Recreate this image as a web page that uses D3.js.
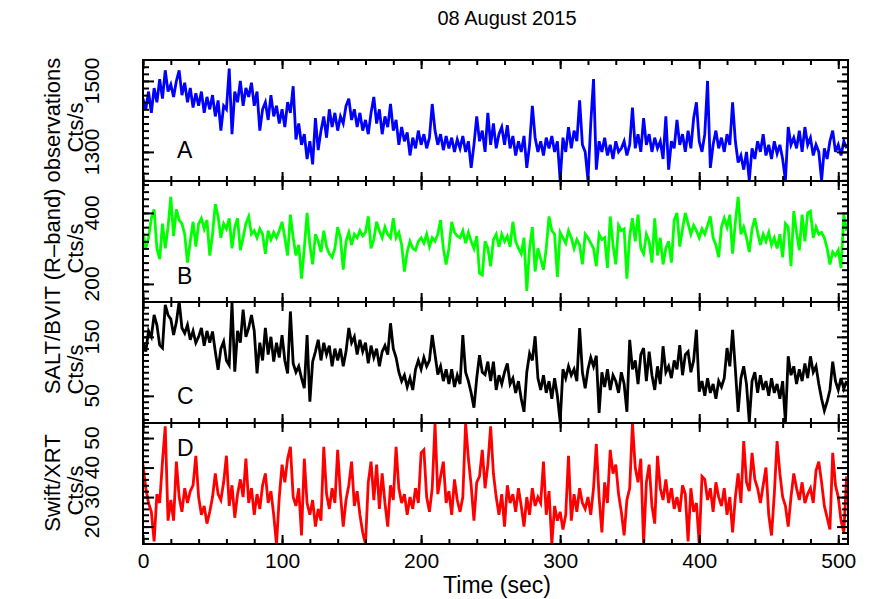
<!DOCTYPE html>
<html>
<head>
<meta charset="utf-8">
<script src="https://cdnjs.cloudflare.com/ajax/libs/d3/7.8.5/d3.min.js"></script>
<style>
body { margin: 0; background: #fff; }
svg text { font-family: "Liberation Sans", Arial, Helvetica, sans-serif; fill: #000; }
</style>
</head>
<body>
<svg id="svg" width="872" height="599"></svg>
<script>
// Light curves, 2 s bins
var titleText = "08 August 2015";
var binSec = 2;
var timeTicks = [0, 100, 200, 300, 400, 500];

// A: SALT/BVIT Cts/s
var saltA = [
	1450, 1420, 1470, 1410, 1480, 1440, 1505, 1450, 1530, 1470,
	1490, 1455, 1500, 1530, 1460, 1495, 1440, 1480, 1425, 1465,
	1430, 1470, 1410, 1455, 1420, 1460, 1400, 1445, 1360, 1430,
	1420, 1535, 1350, 1470, 1440, 1500, 1430, 1480, 1455, 1495,
	1430, 1470, 1360, 1420, 1440, 1390, 1460, 1400, 1430, 1380,
	1420, 1370, 1440, 1410, 1485, 1335, 1380, 1320, 1350, 1280,
	1330, 1265, 1395, 1305, 1360, 1400, 1340, 1420, 1370, 1410,
	1360, 1400, 1380, 1430, 1450, 1390, 1420, 1370, 1410, 1360,
	1390, 1350, 1410, 1455, 1380, 1420, 1350, 1400, 1370, 1435,
	1360, 1390, 1320, 1370, 1330, 1355, 1290, 1340, 1310, 1360,
	1320, 1350, 1310, 1340, 1435, 1360, 1320, 1350, 1305, 1345,
	1310, 1340, 1300, 1335, 1310, 1345, 1300, 1330, 1255, 1320,
	1400, 1330, 1360, 1300, 1410, 1320, 1380, 1310, 1350, 1370,
	1320, 1375, 1310, 1345, 1290, 1330, 1300, 1345, 1255, 1320,
	1430, 1340, 1300, 1330, 1290, 1340, 1310, 1345, 1300, 1330,
	1220, 1340, 1300, 1370, 1310, 1360, 1330, 1445, 1320, 1300,
	1220, 1380, 1505, 1250, 1330, 1300, 1340, 1290, 1320, 1280,
	1330, 1300, 1310, 1330, 1290, 1320, 1425, 1310, 1350, 1300,
	1395, 1320, 1350, 1300, 1340, 1310, 1330, 1280, 1400, 1250,
	1330, 1310, 1390, 1320, 1350, 1300, 1360, 1310, 1395, 1440,
	1330, 1300, 1350, 1500, 1255, 1320, 1360, 1310, 1340, 1300,
	1350, 1320, 1440, 1330, 1270, 1290, 1250, 1300, 1220, 1310,
	1280, 1330, 1300, 1350, 1290, 1320, 1280, 1330, 1295, 1320,
	1280, 1220, 1370, 1320, 1340, 1310, 1360, 1300, 1370, 1320,
	1340, 1290, 1320, 1300, 1220, 1310, 1280, 1330, 1360, 1300,
	1320, 1290, 1330, 1310
];

// B
var saltB = [
	345, 300, 330, 385, 410, 300, 270, 370, 300, 360,
	445, 335, 410, 380, 370, 340, 260, 320, 375, 305,
	370, 385, 355, 380, 280, 340, 425, 390, 330, 370,
	355, 385, 300, 360, 385, 295, 330, 370, 390, 340,
	350, 330, 355, 340, 285, 350, 325, 345, 330, 350,
	375, 330, 280, 395, 330, 280, 310, 215, 300, 400,
	310, 255, 340, 320, 290, 350, 305, 285, 275, 300,
	360, 330, 240, 320, 345, 310, 340, 330, 350, 335,
	345, 390, 300, 325, 375, 350, 330, 360, 340, 330,
	385, 330, 345, 310, 235, 290, 320, 300, 295, 320,
	330, 315, 340, 305, 330, 320, 340, 380, 300, 255,
	300, 375, 345, 335, 330, 350, 315, 345, 320, 300,
	335, 230, 225, 320, 300, 250, 325, 340, 305, 340,
	320, 335, 305, 375, 320, 300, 285, 330, 180, 300,
	360, 235, 300, 270, 240, 300, 390, 350, 340, 220,
	345, 330, 315, 350, 330, 300, 325, 310, 255, 340,
	330, 315, 300, 250, 340, 325, 330, 245, 390, 310,
	255, 365, 350, 355, 215, 335, 385, 320, 395, 300,
	285, 340, 320, 260, 385, 280, 330, 255, 300, 320,
	260, 380, 400, 305, 355, 400, 370, 340, 365, 350,
	330, 355, 340, 365, 390, 330, 310, 275, 360, 385,
	360, 395, 285, 375, 445, 340, 360, 330, 290, 355,
	385, 345, 310, 340, 320, 345, 310, 330, 300, 340,
	275, 370, 360, 250, 405, 345, 295, 395, 320, 400,
	405, 330, 360, 340, 345, 330, 300, 255, 290, 280,
	295, 245, 395, 350
];

// C
var saltC = [
	140, 125, 160, 150, 187, 170, 136, 131, 204, 187,
	180, 153, 175, 210, 165, 156, 170, 145, 160, 140,
	150, 165, 135, 160, 140, 159, 125, 94, 130, 142,
	110, 102, 207, 91, 160, 140, 196, 150, 165, 187,
	160, 88, 140, 110, 165, 120, 150, 108, 140, 115,
	153, 110, 88, 193, 105, 90, 100, 80, 63, 153,
	40, 108, 125, 145, 110, 140, 120, 135, 100, 130,
	110, 130, 100, 125, 165, 140, 150, 120, 145, 125,
	140, 105, 135, 115, 130, 100, 125, 135, 120, 173,
	130, 115, 90, 75, 85, 65, 80, 60, 95, 110,
	95, 115, 100, 110, 153, 120, 86, 100, 75, 95,
	70, 95, 65, 85, 70, 153, 90, 75, 55, 30,
	80, 119, 90, 86, 108, 75, 108, 60, 85, 70,
	90, 105, 70, 80, 55, 75, 45, 23, 90, 122,
	110, 151, 80, 60, 85, 55, 75, 45, 80, 50,
	6, 95, 80, 100, 85, 95, 75, 165, 90, 63,
	95, 115, 100, 118, 21, 90, 65, 95, 60, 85,
	75, 55, 90, 70, 23, 145, 95, 110, 70, 120,
	131, 75, 125, 85, 60, 100, 70, 134, 90, 100,
	80, 110, 95, 136, 85, 120, 125, 90, 110, 162,
	57, 75, 50, 80, 55, 70, 45, 75, 65, 80,
	131, 100, 162, 95, 23, 80, 100, 70, 6, 75,
	90, 55, 85, 60, 75, 50, 80, 55, 70, 45,
	75, 6, 117, 85, 100, 70, 95, 75, 105, 80,
	117, 90, 100, 70, 45, 25, 40, 60, 108, 75,
	60, 80, 62, 75
];

// D: Swift/XRT Cts/s
var xrtD = [
	41, 33, 28, 25, 15, 31, 28, 42, 54, 22,
	29, 22, 42, 30, 25, 33, 28, 32, 34, 44,
	30, 24, 27, 21, 25, 30, 38, 31, 29, 35,
	44, 27, 34, 23, 31, 36, 30, 43, 28, 33,
	24, 31, 26, 34, 38, 28, 32, 24, 14, 30,
	41, 35, 43, 47, 30, 27, 33, 17, 43, 28,
	24, 29, 20, 26, 22, 47, 31, 26, 33, 28,
	46, 31, 20, 29, 34, 42, 27, 32, 24, 18,
	14, 35, 42, 29, 41, 26, 38, 28, 20, 34,
	29, 47, 33, 28, 31, 24, 30, 26, 33, 28,
	45, 46, 30, 25, 33, 55, 31, 37, 42, 28,
	32, 24, 36, 29, 25, 30, 55, 43, 34, 22,
	35, 37, 46, 33, 41, 54, 38, 30, 24, 31,
	20, 34, 28, 31, 25, 33, 27, 20, 30, 24,
	33, 27, 30, 28, 42, 24, 32, 14, 27, 22,
	25, 19, 24, 44, 22, 31, 25, 33, 28, 26,
	30, 24, 33, 48, 30, 18, 35, 28, 46, 38,
	41, 31, 25, 17, 29, 33, 55, 40, 35, 43,
	14, 35, 41, 27, 21, 44, 33, 29, 36, 28,
	33, 26, 30, 25, 34, 31, 15, 33, 25, 28,
	14, 37, 36, 29, 33, 25, 35, 30, 27, 33,
	24, 30, 18, 30, 38, 28, 49, 35, 32, 45,
	36, 33, 28, 34, 40, 24, 17, 31, 49, 38,
	30, 27, 20, 30, 38, 33, 29, 35, 28, 31,
	33, 28, 39, 42, 35, 27, 23, 19, 45, 34,
	30, 22, 18, 37
];

var panelSeries = [saltA, saltB, saltC, xrtD];
var panelLetters = ["A", "B", "C", "D"];
var panelColors = ["#0000ff", "#00ff00", "#000000", "#ff0000"];
var yDomains = [[1218, 1559], [149, 490], [4, 209], [14.1, 55.1]];
var yMajors = [[1300, 1500], [200, 400], [50, 150], [20, 30, 40, 50]];
var yMinorSteps = [20, 20, 10, 2];

var svg = d3.select("#svg");

var plotLeft = 143, plotRight = 848, plotTop = 60, plotBottom = 544;
var panelH = (plotBottom - plotTop) / panelSeries.length;

var x = d3.scaleLinear().domain([0, 507]).range([plotLeft, plotRight]);
var xMinor = d3.range(0, 507, 20);

// baseline offset of the panel letter from the panel top
var letterOffsets = [98, 103, 102, 33];

function styleTicks(g, width){
	g.select(".domain").remove();
	g.selectAll(".tick line").attr("stroke", "#000").attr("stroke-width", width);
}

panelSeries.forEach(function(values, i){
	var top = plotTop + i * panelH,
		bottom = top + panelH,
		y = d3.scaleLinear().domain(yDomains[i]).range([bottom, top]),
		d0 = yDomains[i][0], d1 = yDomains[i][1], step = yMinorSteps[i],
		yMinor = d3.range(Math.ceil(d0 / step) * step, d1, step),
		g = svg.append("g").attr("id", "panel-" + i);

	g.append("clipPath").attr("id", "clip-" + i)
		.append("rect")
		.attr("x", plotLeft).attr("y", top)
		.attr("width", plotRight - plotLeft).attr("height", panelH);

	var line = d3.line()
		.x(function(d, k){ return x(k * binSec); })
		.y(function(d){ return y(d); });

	g.append("path")
		.datum(values)
		.attr("clip-path", "url(#clip-" + i + ")")
		.attr("fill", "none")
		.attr("stroke", panelColors[i])
		.attr("stroke-width", 2.8)
		.attr("d", line);

	// inward ticks, all four sides
	g.append("g").attr("transform", "translate(0," + top + ")")
		.call(d3.axisTop(x).tickValues(xMinor).tickSize(-5).tickFormat(""))
		.call(styleTicks, 2);
	g.append("g").attr("transform", "translate(0," + top + ")")
		.call(d3.axisTop(x).tickValues(timeTicks).tickSize(-9).tickFormat(""))
		.call(styleTicks, 2);
	g.append("g").attr("transform", "translate(0," + bottom + ")")
		.call(d3.axisBottom(x).tickValues(xMinor).tickSize(-5).tickFormat(""))
		.call(styleTicks, 2);
	var xb = g.append("g").attr("transform", "translate(0," + bottom + ")")
		.call(d3.axisBottom(x).tickValues(timeTicks).tickSize(-9).tickPadding(9)
			.tickFormat(i === panelSeries.length - 1 ? d3.format("d") : ""))
		.call(styleTicks, 2);
	xb.selectAll("text").attr("font-size", "21px")
		.attr("font-family", "Liberation Sans, Arial, sans-serif").attr("fill", "#000");

	g.append("g").attr("transform", "translate(" + plotLeft + ",0)")
		.call(d3.axisLeft(y).tickValues(yMinor).tickSize(-6).tickFormat(""))
		.call(styleTicks, 2);
	g.append("g").attr("transform", "translate(" + plotLeft + ",0)")
		.call(d3.axisLeft(y).tickValues(yMajors[i]).tickSize(-11).tickFormat(""))
		.call(styleTicks, 2);
	g.append("g").attr("transform", "translate(" + plotRight + ",0)")
		.call(d3.axisRight(y).tickValues(yMinor).tickSize(-6).tickFormat(""))
		.call(styleTicks, 2);
	g.append("g").attr("transform", "translate(" + plotRight + ",0)")
		.call(d3.axisRight(y).tickValues(yMajors[i]).tickSize(-11).tickFormat(""))
		.call(styleTicks, 2);

	// rotated y tick labels
	g.selectAll("text.ylab")
		.data(yMajors[i])
		.enter()
		.append("text")
		.attr("class", "ylab")
		.attr("transform", function(d){ return "translate(99," + y(d) + ") rotate(-90)"; })
		.attr("text-anchor", "middle")
		.attr("font-size", "21px")
		.text(function(d){ return d; });

	g.append("text")
		.attr("transform", "translate(83," + (top + panelH / 2 + 7) + ") rotate(-90)")
		.attr("text-anchor", "middle")
		.attr("font-size", "22px")
		.text("Cts/s");

	g.append("text")
		.attr("x", 177)
		.attr("y", top + letterOffsets[i])
		.attr("font-size", "23px")
		.text(panelLetters[i]);

	g.append("rect")
		.attr("x", plotLeft).attr("y", top)
		.attr("width", plotRight - plotLeft).attr("height", panelH)
		.attr("fill", "none")
		.attr("stroke", "#000")
		.attr("stroke-width", 2);
});

svg.append("text")
	.attr("x", 507).attr("y", 25)
	.attr("text-anchor", "middle")
	.attr("font-size", "20px")
	.text(titleText);

svg.append("text")
	.attr("x", 497).attr("y", 593)
	.attr("text-anchor", "middle")
	.attr("font-size", "23px")
	.text("Time (sec)");

svg.append("text")
	.attr("transform", "translate(60,226) rotate(-90)")
	.attr("text-anchor", "middle")
	.attr("font-size", "22px")
	.text("SALT/BVIT (R\u2013band) observations");

svg.append("text")
	.attr("transform", "translate(60,483) rotate(-90)")
	.attr("text-anchor", "middle")
	.attr("font-size", "22px")
	.text("Swift/XRT");
</script>
</body>
</html>
